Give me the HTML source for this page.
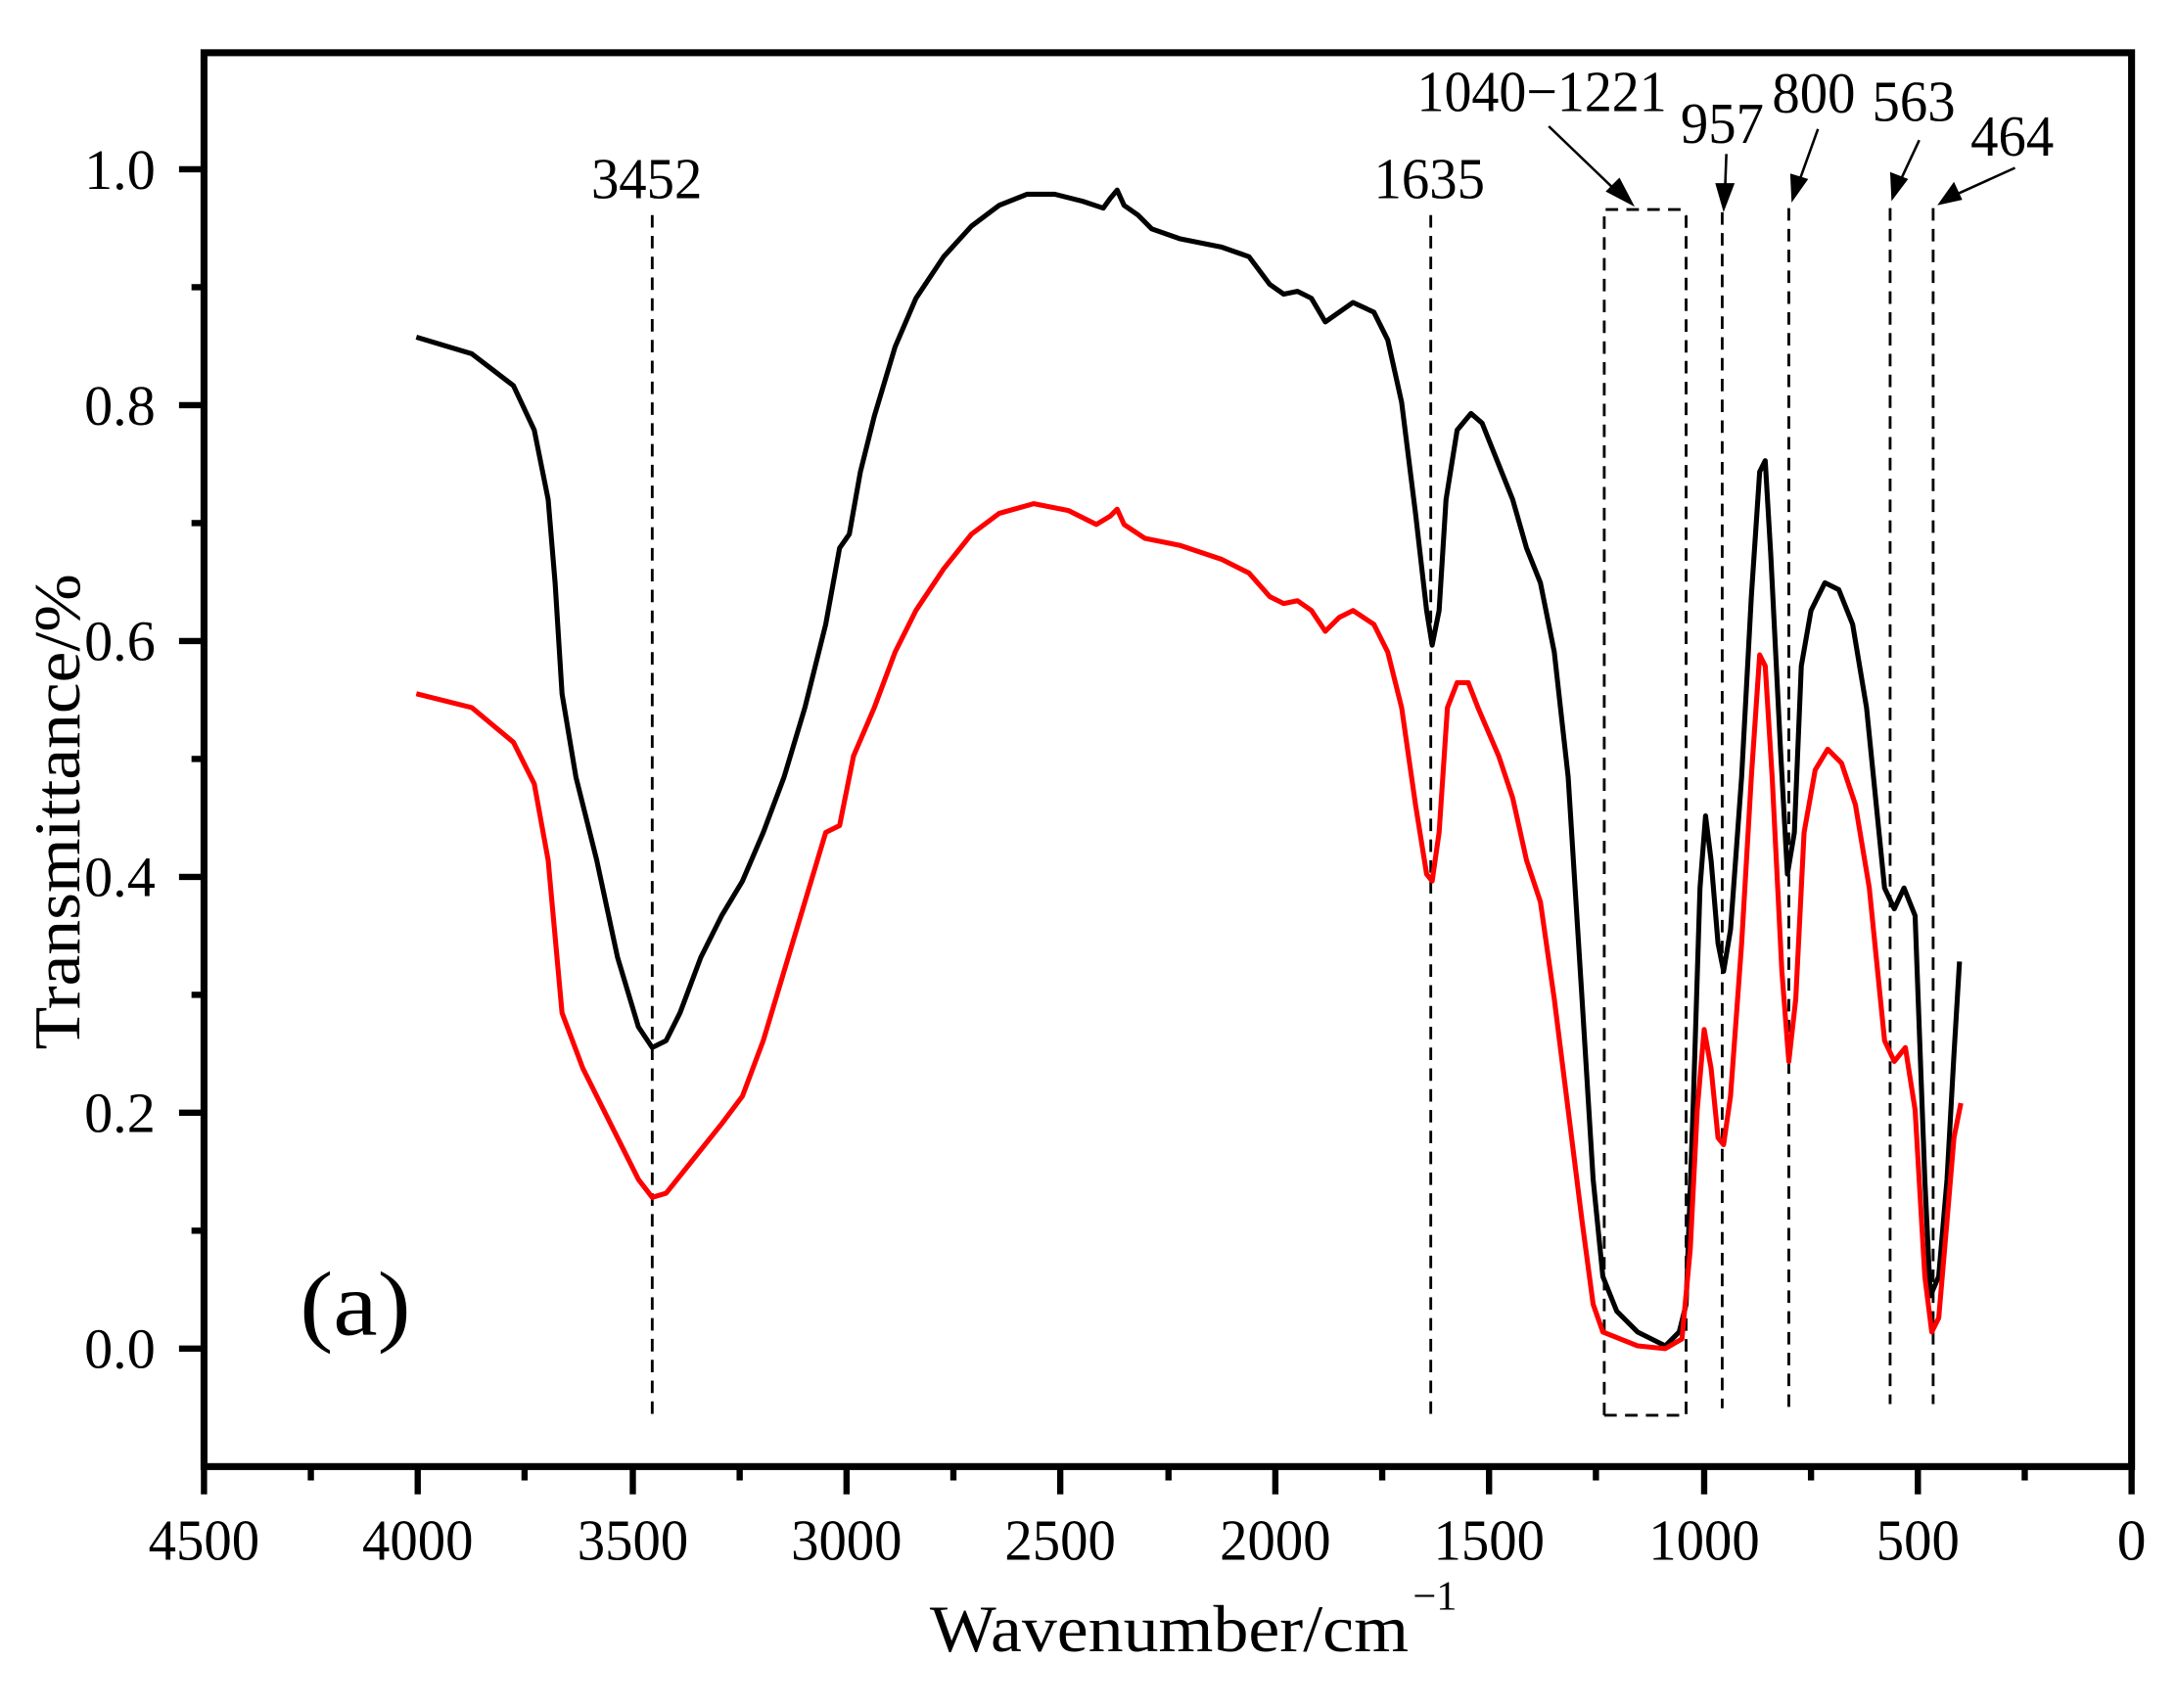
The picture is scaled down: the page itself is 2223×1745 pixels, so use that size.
<!DOCTYPE html>
<html><head><meta charset="utf-8"><style>html,body{margin:0;padding:0;background:#fff}svg{display:block}</style></head>
<body>
<svg width="2223" height="1745" viewBox="0 0 1568 1231" preserveAspectRatio="none" xmlns="http://www.w3.org/2000/svg" font-family="Liberation Serif, serif">
<rect x="0" y="0" width="1568" height="1231" fill="#fff"/>
<g stroke="#000" stroke-width="2" stroke-dasharray="9,6" fill="none">
<line x1="470" y1="155" x2="470" y2="1020"/>
<line x1="1031" y1="155" x2="1031" y2="1020"/>
<polyline points="1156,1020 1156,151 1212,151 1215,156 1215,1020"/>
<line x1="1156" y1="1020" x2="1215" y2="1020"/>
<line x1="1241" y1="153" x2="1241" y2="1015"/>
<line x1="1289" y1="150" x2="1289" y2="1015"/>
<line x1="1362" y1="150" x2="1362" y2="1012"/>
<line x1="1393" y1="150" x2="1393" y2="1012"/>
</g>
<g stroke="#000" stroke-width="1.8">
<line x1="1116" y1="91" x2="1166" y2="139"/>
<line x1="1244" y1="111" x2="1243" y2="138"/>
<line x1="1310" y1="93" x2="1296" y2="132"/>
<line x1="1383" y1="101" x2="1369" y2="131"/>
<line x1="1452" y1="121" x2="1410" y2="140"/>
</g>
<g fill="#000">
<polygon points="1178,149 1157,138 1167,128"/>
<polygon points="1242,153 1236,132 1250,132"/>
<polygon points="1291,146 1290,125 1303,129"/>
<polygon points="1363,145 1362,124 1375,129"/>
<polygon points="1396,148 1408,131 1414,144"/>
</g>
<polyline fill="none" stroke="#000" stroke-width="3.6" stroke-linejoin="round" points="300,243 340,255 370,278 385,310 395,360 400,420 405,500 415,560 430,620 445,690 460,740 470,755 480,750 490,730 505,690 520,660 535,635 550,600 565,560 580,510 595,450 605,395 612,385 620,340 630,300 645,250 660,215 680,185 700,163 720,148 740,140 760,140 780,145 795,150 800,143 805,137 810,148 820,155 830,165 850,172 880,178 900,185 915,205 925,212 935,210 945,215 955,232 965,225 975,218 990,225 1000,245 1010,290 1020,370 1028,440 1032,465 1037,440 1042,360 1050,310 1060,298 1068,305 1080,335 1090,360 1100,395 1110,420 1120,470 1130,560 1140,720 1148,850 1155,920 1165,945 1180,960 1200,970 1210,960 1215,940 1220,800 1225,640 1229,588 1233,620 1238,680 1242,700 1247,670 1255,560 1262,430 1268,340 1272,332 1276,400 1283,540 1288,630 1293,600 1298,480 1305,440 1315,420 1325,425 1335,450 1345,510 1358,640 1365,655 1372,640 1380,660 1387,850 1391,934 1397,920 1403,850 1408,760 1412,693"/>
<polyline fill="none" stroke="#ff0000" stroke-width="3.6" stroke-linejoin="round" points="300,500 340,510 370,535 385,565 395,620 405,730 420,770 440,810 460,850 470,863 480,860 500,835 520,810 535,790 550,750 565,700 580,650 595,600 605,595 615,545 630,510 645,470 660,440 680,410 700,385 720,370 745,363 770,368 790,378 800,372 805,367 810,378 825,388 850,393 880,403 900,413 915,430 925,435 935,433 945,440 955,455 965,445 975,440 990,450 1000,470 1010,510 1020,580 1028,630 1032,635 1037,600 1043,510 1050,492 1058,492 1065,510 1080,545 1090,575 1100,620 1110,650 1120,720 1130,800 1140,880 1148,940 1155,960 1180,970 1200,972 1212,965 1218,900 1223,800 1228,742 1233,770 1238,820 1242,825 1247,790 1255,680 1262,560 1268,472 1272,480 1277,560 1284,700 1289,765 1294,720 1300,600 1308,555 1317,540 1327,550 1337,580 1347,640 1358,750 1365,765 1373,755 1380,800 1387,920 1392,960 1397,950 1403,880 1408,820 1413,795"/>
<rect x="147" y="38" width="1389" height="1019" fill="none" stroke="#000" stroke-width="5"/>
<g stroke="#000" stroke-width="4.5">
<line x1="147" y1="1057" x2="147" y2="1077"/><line x1="224" y1="1057" x2="224" y2="1067"/>
<line x1="301" y1="1057" x2="301" y2="1077"/><line x1="378" y1="1057" x2="378" y2="1067"/>
<line x1="456" y1="1057" x2="456" y2="1077"/><line x1="533" y1="1057" x2="533" y2="1067"/>
<line x1="610" y1="1057" x2="610" y2="1077"/><line x1="687" y1="1057" x2="687" y2="1067"/>
<line x1="764" y1="1057" x2="764" y2="1077"/><line x1="842" y1="1057" x2="842" y2="1067"/>
<line x1="919" y1="1057" x2="919" y2="1077"/><line x1="996" y1="1057" x2="996" y2="1067"/>
<line x1="1073" y1="1057" x2="1073" y2="1077"/><line x1="1150" y1="1057" x2="1150" y2="1067"/>
<line x1="1228" y1="1057" x2="1228" y2="1077"/><line x1="1305" y1="1057" x2="1305" y2="1067"/>
<line x1="1382" y1="1057" x2="1382" y2="1077"/><line x1="1459" y1="1057" x2="1459" y2="1067"/>
<line x1="1536" y1="1057" x2="1536" y2="1077"/>
<line x1="147" y1="972" x2="129" y2="972"/><line x1="147" y1="887" x2="138" y2="887"/>
<line x1="147" y1="802" x2="129" y2="802"/><line x1="147" y1="717" x2="138" y2="717"/>
<line x1="147" y1="632" x2="129" y2="632"/><line x1="147" y1="547" x2="138" y2="547"/>
<line x1="147" y1="462" x2="129" y2="462"/><line x1="147" y1="377" x2="138" y2="377"/>
<line x1="147" y1="292" x2="129" y2="292"/><line x1="147" y1="207" x2="138" y2="207"/>
<line x1="147" y1="122" x2="129" y2="122"/>
</g>
<g font-size="42" text-anchor="middle">
<text x="147" y="1124" textLength="80" lengthAdjust="spacingAndGlyphs">4500</text><text x="301" y="1124" textLength="80" lengthAdjust="spacingAndGlyphs">4000</text><text x="456" y="1124" textLength="80" lengthAdjust="spacingAndGlyphs">3500</text>
<text x="610" y="1124" textLength="80" lengthAdjust="spacingAndGlyphs">3000</text><text x="764" y="1124" textLength="80" lengthAdjust="spacingAndGlyphs">2500</text><text x="919" y="1124" textLength="80" lengthAdjust="spacingAndGlyphs">2000</text>
<text x="1073" y="1124" textLength="80" lengthAdjust="spacingAndGlyphs">1500</text><text x="1228" y="1124" textLength="80" lengthAdjust="spacingAndGlyphs">1000</text><text x="1382" y="1124" textLength="60" lengthAdjust="spacingAndGlyphs">500</text>
<text x="1536" y="1124">0</text>
</g>
<g font-size="41" text-anchor="end">
<text x="112" y="986">0.0</text><text x="112" y="816">0.2</text><text x="112" y="646">0.4</text>
<text x="112" y="476">0.6</text><text x="112" y="306">0.8</text><text x="112" y="136">1.0</text>
</g>
<g font-size="42" text-anchor="middle">
<text x="466" y="143" textLength="80" lengthAdjust="spacingAndGlyphs">3452</text>
<text x="1030" y="143" textLength="80" lengthAdjust="spacingAndGlyphs">1635</text>
<text x="1111" y="80" textLength="180" lengthAdjust="spacingAndGlyphs">1040−1221</text>
<text x="1241" y="103" textLength="60" lengthAdjust="spacingAndGlyphs">957</text>
<text x="1307" y="81" textLength="60" lengthAdjust="spacingAndGlyphs">800</text>
<text x="1379" y="87" textLength="60" lengthAdjust="spacingAndGlyphs">563</text>
<text x="1450" y="112" textLength="60" lengthAdjust="spacingAndGlyphs">464</text>
</g>
<text x="216" y="962" font-size="66" textLength="80" lengthAdjust="spacingAndGlyphs">(a)</text>
<text transform="translate(57,585) rotate(-90)" text-anchor="middle" font-size="47" textLength="343" lengthAdjust="spacingAndGlyphs">Transmittance/%</text>
<text x="670" y="1190" font-size="48" textLength="345" lengthAdjust="spacingAndGlyphs">Wavenumber/cm</text>
<text x="1018" y="1160" font-size="30">−1</text>
</svg>
</body></html>
